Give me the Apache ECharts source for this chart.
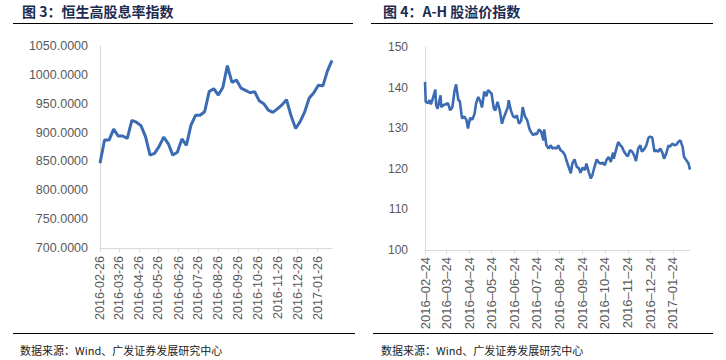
<!DOCTYPE html>
<html>
<head>
<meta charset="utf-8">
<script src="https://cdn.jsdelivr.net/npm/echarts@6/dist/echarts.min.js"></script>
<style>
html,body{margin:0;padding:0;background:#fff;}
#c{width:726px;height:360px;}
</style>
</head>
<body>
<div id="c"></div>
<script>
// ---- Left chart: 恒生高股息率指数 (weekly) ----
const hsDates = ['2016-02-26','2016-03-04','2016-03-11','2016-03-18','2016-03-25','2016-04-01','2016-04-08','2016-04-15','2016-04-22','2016-04-29',
'2016-05-06','2016-05-13','2016-05-20','2016-05-27','2016-06-03','2016-06-10','2016-06-17','2016-06-24','2016-07-01','2016-07-08',
'2016-07-15','2016-07-22','2016-07-29','2016-08-05','2016-08-12','2016-08-19','2016-08-26','2016-09-02','2016-09-09','2016-09-16',
'2016-09-23','2016-09-30','2016-10-07','2016-10-14','2016-10-21','2016-10-28','2016-11-04','2016-11-11','2016-11-18','2016-11-25',
'2016-12-02','2016-12-09','2016-12-16','2016-12-23','2016-12-30','2017-01-06','2017-01-13','2017-01-20','2017-01-27','2017-02-03',
'2017-02-10','2017-02-17'];
const hsValues = [847,887,887,906,894,894,890,921,918,912,
893,861,864,876,892,881,861,866,889,878,
913,930,930,936,971,976,965,978,1016,987,
991,977,973,969,971,955,950,939,935,941,
948,957,929,907,919,936,960,969,982,981,
1007,1025];
const hsTicks = ['2016-02-26','2016-03-26','2016-04-26','2016-05-26','2016-06-26','2016-07-26','2016-08-26','2016-09-26','2016-10-26','2016-11-26','2016-12-26','2017-01-26'];

// ---- Right chart: A-H 股溢价指数 ----
const ahDates = ['2016-02-24','2016-02-25','2016-02-28','2016-03-01','2016-03-03','2016-03-05','2016-03-09','2016-03-10','2016-03-12','2016-03-16',
'2016-03-17','2016-03-20','2016-03-23','2016-03-26','2016-03-29','2016-04-01','2016-04-04','2016-04-06','2016-04-09','2016-04-11',
'2016-04-14','2016-04-17','2016-04-20','2016-04-22','2016-04-25','2016-04-28','2016-05-01','2016-05-03','2016-05-06','2016-05-09',
'2016-05-11','2016-05-14','2016-05-17','2016-05-19','2016-05-21','2016-05-24','2016-05-27','2016-05-29','2016-06-01','2016-06-04',
'2016-06-07','2016-06-09','2016-06-12','2016-06-15','2016-06-16','2016-06-19','2016-06-22','2016-06-25','2016-06-27','2016-06-30',
'2016-07-03','2016-07-05','2016-07-08','2016-07-11','2016-07-14','2016-07-16','2016-07-19','2016-07-22','2016-07-24','2016-07-27',
'2016-07-30','2016-08-02','2016-08-03','2016-08-06','2016-08-09','2016-08-12','2016-08-14','2016-08-17','2016-08-20','2016-08-22',
'2016-08-25','2016-08-28','2016-08-31','2016-09-02','2016-09-05','2016-09-08','2016-09-10','2016-09-13','2016-09-16','2016-09-19',
'2016-09-21','2016-09-24','2016-09-27','2016-09-29','2016-10-02','2016-10-05','2016-10-07','2016-10-10','2016-10-13','2016-10-16',
'2016-10-18','2016-10-21','2016-10-24','2016-10-26','2016-10-29','2016-11-01','2016-11-04','2016-11-05','2016-11-08','2016-11-11',
'2016-11-14','2016-11-16','2016-11-19','2016-11-22','2016-11-24','2016-11-27','2016-11-30','2016-12-03','2016-12-05','2016-12-08',
'2016-12-11','2016-12-13','2016-12-16','2016-12-19','2016-12-22','2016-12-24','2016-12-27','2016-12-30','2017-01-01','2017-01-04',
'2017-01-07','2017-01-10','2017-01-12','2017-01-15','2017-01-18','2017-01-20','2017-01-23','2017-01-26','2017-01-29','2017-01-31',
'2017-02-03','2017-02-06','2017-02-08','2017-02-11','2017-02-14','2017-02-16'];
const ahValues = [141.4,136.5,136.2,136.9,135.9,137.0,139.5,135.7,134.8,138.1,
135.2,135.7,135.9,136.2,134.4,135.2,139.3,140.8,136.9,136.7,
132.4,132.9,132.0,129.9,132.6,132.1,133.6,136.1,137.7,136.5,
135.1,139.0,137.9,139.3,139.1,138.5,134.8,134.4,136.5,134.4,
131.1,132.4,133.8,135.2,136.9,134.4,132.9,132.6,133.2,131.1,
131.9,135.2,132.9,132.0,129.9,129.1,128.3,128.7,128.5,129.7,
129.1,127.0,129.7,125.8,125.0,125.8,125.0,125.2,125.0,125.8,
124.6,124.2,123.4,122.1,120.5,118.9,121.3,122.3,120.5,120.1,
119.0,120.3,119.7,121.3,119.3,117.6,118.4,120.5,122.3,121.5,
121.3,121.5,120.9,122.1,122.9,121.7,124.0,122.5,124.6,126.6,
125.8,125.4,124.2,123.4,123.1,124.6,124.2,123.1,121.9,125.0,
125.8,124.2,124.8,125.8,127.7,127.9,127.7,124.2,124.6,124.2,
125.0,123.8,122.5,123.8,125.8,125.4,126.2,125.8,126.0,126.6,
127.0,125.4,122.9,122.1,121.3,119.8];
const ahTicks = ['2016-02-24','2016-03-24','2016-04-24','2016-05-24','2016-06-24','2016-07-24','2016-08-24','2016-09-24','2016-10-24','2016-11-24','2016-12-24','2017-01-24'];

function ts(s){const p=s.split('-');return Date.UTC(+p[0],+p[1]-1,+p[2]);}
function fmt(v,sep){const d=new Date(v);const m=d.getUTCMonth()+1,dd=d.getUTCDate();
  return d.getUTCFullYear()+sep+(m<10?'0':'')+m+sep+(dd<10?'0':'')+dd;}

const lineColor='#3b6cb3';
const axisGray='#d9d9d9';
const labelGray='#595959';

const chart=echarts.init(document.getElementById('c'),null,{renderer:'svg'});
chart.setOption({
  animation:false,
  grid:[
    {left:100,top:46,width:232,height:202},
    {left:425,top:47,width:265,height:203}
  ],
  xAxis:[
    {type:'value',gridIndex:0,min:ts(hsDates[0]),max:ts(hsDates[hsDates.length-1]),
     axisLine:{show:true,onZero:false,lineStyle:{color:axisGray,width:1}},
     axisTick:{show:true,length:4,lineStyle:{color:axisGray},customValues:hsTicks.map(ts)},
     axisLabel:{customValues:hsTicks.map(ts),rotate:90,margin:8,color:labelGray,fontSize:12.5,fontFamily:'Liberation Sans',
       showMinLabel:true,showMaxLabel:true,hideOverlap:false,
       formatter:function(v){return fmt(v,'-');}},
     splitLine:{show:false}},
    {type:'value',gridIndex:1,min:ts(ahDates[0]),max:ts(ahDates[ahDates.length-1]),
     axisLine:{show:true,onZero:false,lineStyle:{color:axisGray,width:1}},
     axisTick:{show:true,length:4,lineStyle:{color:axisGray},customValues:ahTicks.map(ts)},
     axisLabel:{customValues:ahTicks.map(ts),rotate:90,margin:7,color:labelGray,fontSize:13,fontFamily:'Liberation Sans',
       showMinLabel:true,showMaxLabel:true,hideOverlap:false,
       formatter:function(v){return fmt(v,'\u2013');}},
     splitLine:{show:false}}
  ],
  yAxis:[
    {type:'value',gridIndex:0,min:700,max:1050,interval:50,
     axisLine:{show:true,lineStyle:{color:axisGray}},axisTick:{show:false},splitLine:{show:false},
     axisLabel:{color:labelGray,fontSize:12.5,margin:12,fontFamily:'Liberation Sans',formatter:function(v){return v.toFixed(4);}}},
    {type:'value',gridIndex:1,min:100,max:150,interval:10,
     axisLine:{show:true,lineStyle:{color:axisGray}},axisTick:{show:false},splitLine:{show:false},
     axisLabel:{color:labelGray,fontSize:12,margin:17,fontFamily:'Liberation Sans'}}
  ],
  series:[
    {type:'line',xAxisIndex:0,yAxisIndex:0,showSymbol:false,symbol:'none',
     lineStyle:{color:lineColor,width:3},
     data:hsDates.map((d,i)=>[ts(d),hsValues[i]])},
    {type:'line',xAxisIndex:1,yAxisIndex:1,showSymbol:false,symbol:'none',
     lineStyle:{color:lineColor,width:2.6},
     data:ahDates.map((d,i)=>[ts(d),ahValues[i]])}
  ],
  graphic:[
    {type:'text',left:22,top:4,style:{text:'图 3：恒生高股息率指数',font:'bold 14px "Noto Sans CJK SC"',fill:'#1c2b50'}},
    {type:'line',shape:{x1:13,y1:23.5,x2:353,y2:23.5},style:{stroke:'#000',lineWidth:1}},
    {type:'text',left:383,top:4,style:{text:'图 4：A-H 股溢价指数',font:'bold 14px "Noto Sans CJK SC"',fill:'#1c2b50'}},
    {type:'line',shape:{x1:371,y1:23.5,x2:713,y2:23.5},style:{stroke:'#000',lineWidth:1}},
    {type:'line',shape:{x1:13,y1:333.5,x2:355,y2:333.5},style:{stroke:'#000',lineWidth:1}},
    {type:'line',shape:{x1:373,y1:333.5,x2:713,y2:333.5},style:{stroke:'#000',lineWidth:1}},
    {type:'text',left:20,top:344,style:{text:'数据来源：Wind、广发证券发展研究中心',font:'11px "Noto Sans CJK SC"',fill:'#222'}},
    {type:'text',left:381,top:344,style:{text:'数据来源：Wind、广发证券发展研究中心',font:'11px "Noto Sans CJK SC"',fill:'#222'}}
  ]
});
</script>
</body>
</html>
